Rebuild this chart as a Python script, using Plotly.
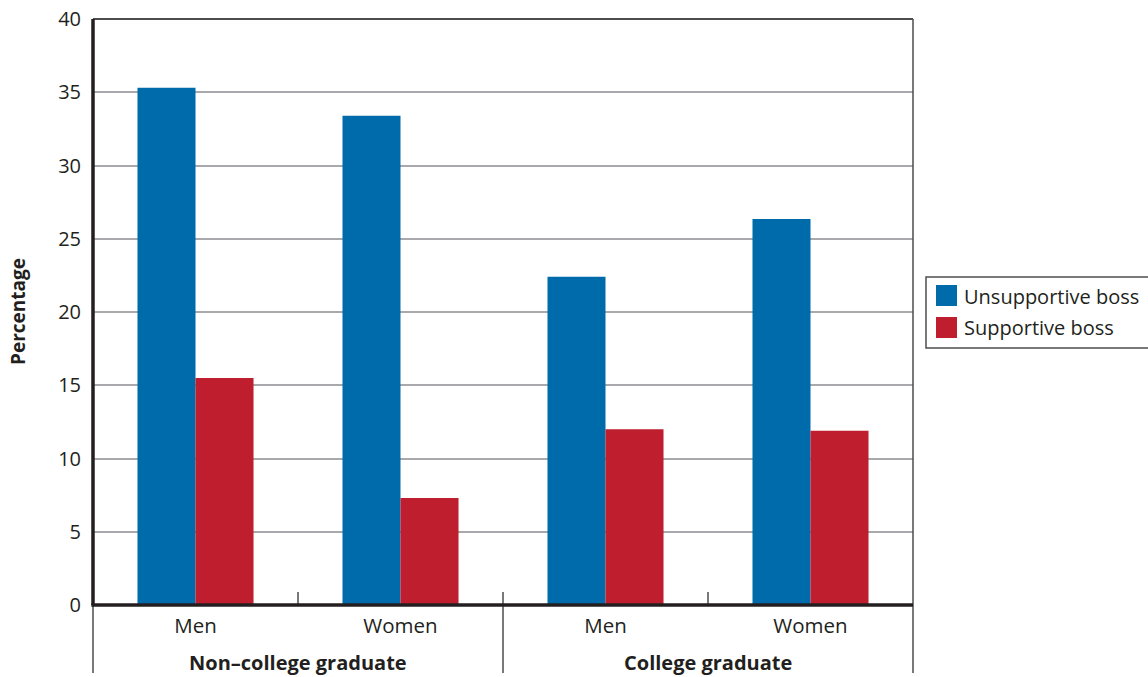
import plotly.graph_objects as go

# Data
groups = ["Non–college graduate", "College graduate"]
sexes = ["Men", "Women", "Men", "Women"]
unsupportive = [35.3, 33.4, 22.4, 26.35]
supportive = [15.5, 7.3, 12.0, 11.9]
series_names = ["Unsupportive boss", "Supportive boss"]
y_ticks = [0, 5, 10, 15, 20, 25, 30, 35, 40]

BLUE = "#006BAA"
RED = "#BE1E2D"
INK = "#231F20"
GRID = "#A7A9AC"
FONT = "Open Sans, Noto Sans, sans-serif"

x_pos = list(range(len(sexes)))

fig = go.Figure()
fig.add_trace(go.Bar(x=x_pos, y=unsupportive, name=series_names[0],
                     marker=dict(color=BLUE, line=dict(width=0)), showlegend=False))
fig.add_trace(go.Bar(x=x_pos, y=supportive, name=series_names[1],
                     marker=dict(color=RED, line=dict(width=0)), showlegend=False))

W, H = 1148, 677
L, R, T, B = 93, 235, 19, 72
pw = W - L - R
ph = H - T - B

fig.update_layout(
    width=W, height=H,
    margin=dict(l=L, r=R, t=T, b=B, pad=0, autoexpand=False),
    paper_bgcolor="white", plot_bgcolor="white",
    barmode="group", bargap=0.434, bargroupgap=0,
    font=dict(family=FONT, color=INK, size=20),
    showlegend=False,
)
fig.update_xaxes(
    range=[-0.5, 3.5], tickmode="array", tickvals=x_pos, ticktext=sexes,
    showgrid=False, zeroline=False, showline=False, ticks="", automargin=False,
    ticklabelstandoff=6, tickfont=dict(size=20.5, color=INK),
)
fig.update_yaxes(
    range=[0, 40], tickmode="array", tickvals=y_ticks, automargin=False,
    showgrid=True, gridcolor=GRID, gridwidth=1.5,
    zeroline=False, showline=False, ticks="",
    ticklabelstandoff=11, tickfont=dict(size=20, color=INK),
)

shapes = []
below = -(677 - 4 - 605) / ph  # extension of frame lines under the axis
# frame: top and right thin lines
shapes.append(dict(type="line", xref="paper", yref="paper", x0=0, x1=1, y0=1, y1=1,
                   line=dict(color="#4D4D4F", width=2)))
shapes.append(dict(type="line", xref="paper", yref="paper", x0=1, x1=1, y0=below, y1=1,
                   line=dict(color="#4D4D4F", width=1.5)))
# left extension below the axis
shapes.append(dict(type="line", xref="paper", yref="paper", x0=0, x1=0, y0=below, y1=0,
                   line=dict(color="#4D4D4F", width=1.5)))
# category boundary ticks and group divider
tick_up = 13 / ph
for xb in [0.5, 2.5]:
    shapes.append(dict(type="line", xref="x", yref="paper", x0=xb, x1=xb, y0=0, y1=tick_up,
                       line=dict(color="#4D4D4F", width=1.5)))
shapes.append(dict(type="line", xref="x", yref="paper", x0=1.5, x1=1.5, y0=below, y1=tick_up,
                   line=dict(color="#4D4D4F", width=1.5)))
# thick axes
shapes.append(dict(type="line", xref="paper", yref="paper", x0=0, x1=0, y0=0, y1=1,
                   line=dict(color=INK, width=3.5)))
shapes.append(dict(type="line", xref="paper", yref="paper", x0=-0.002, x1=1, y0=0, y1=0,
                   line=dict(color=INK, width=3.5)))

# legend box and swatches (pixel geometry converted to paper units)
def px_x(px):
    return (px - L) / pw

def px_y(py):
    return (H - B - py) / ph

shapes.append(dict(type="rect", xref="paper", yref="paper",
                   x0=px_x(926), x1=px_x(1160), y0=px_y(348), y1=px_y(277),
                   line=dict(color="#4D4D4F", width=1.5), fillcolor="white"))
shapes.append(dict(type="rect", xref="paper", yref="paper",
                   x0=px_x(936), x1=px_x(957), y0=px_y(306), y1=px_y(285),
                   line=dict(width=0), fillcolor=BLUE))
shapes.append(dict(type="rect", xref="paper", yref="paper",
                   x0=px_x(936), x1=px_x(957), y0=px_y(338), y1=px_y(317),
                   line=dict(width=0), fillcolor=RED))
fig.update_layout(shapes=shapes)

annotations = []
annotations.append(dict(text=series_names[0], xref="paper", yref="paper",
                        x=px_x(962), y=px_y(296), xanchor="left", yanchor="middle",
                        showarrow=False, font=dict(size=20, color=INK)))
annotations.append(dict(text=series_names[1], xref="paper", yref="paper",
                        x=px_x(962), y=px_y(327), xanchor="left", yanchor="middle",
                        showarrow=False, font=dict(size=20, color=INK)))
# group labels
for gx, g in zip([0.5, 2.5], groups):
    annotations.append(dict(text="<b>" + g + "</b>", xref="x", yref="paper",
                            x=gx, y=px_y(662), xanchor="center", yanchor="middle",
                            showarrow=False, font=dict(size=20, color=INK)))
# y-axis title
annotations.append(dict(text="<b>Percentage</b>", xref="paper", yref="paper",
                        x=px_x(18), y=0.5, xanchor="center", yanchor="middle",
                        textangle=-90, showarrow=False, font=dict(size=19, color=INK)))
fig.update_layout(annotations=annotations)

fig.write_html("out.html")
